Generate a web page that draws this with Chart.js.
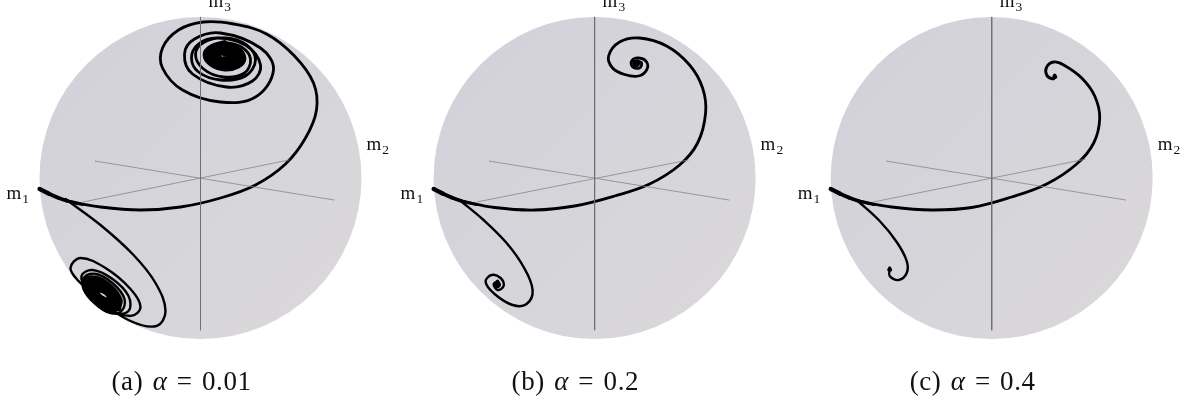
<!DOCTYPE html>
<html><head><meta charset="utf-8">
<style>
html,body{margin:0;padding:0;background:#fff;width:1187px;height:403px;overflow:hidden}
canvas{position:absolute;top:0}
.t{position:absolute;white-space:nowrap;font-family:"Liberation Serif",serif;color:#111}
.m{font-size:19px;line-height:19px}
.m sub{font-size:13.5px;line-height:0;vertical-align:-4px;margin-left:1px}
.c{font-size:27px;line-height:32px;word-spacing:2px;letter-spacing:.6px}
</style>
<script src="https://cdn.jsdelivr.net/npm/chart.js@4"></script>
</head><body>
<script>
// Projected coordinates: the sphere spans -161..161 on both axes.
const captions = ["(a) ", "(b) ", "(c) "];
const alphas = ["0.01", "0.2", "0.4"];
const axisNames = ["m1", "m2", "m3"];
const centers = [200.5, 594.6, 991.7];

const vAxis = [[0, 161], [0, -152]];
const a_axis1 = [[-105.5, 17], [133.5, -22]];
const a_axis2 = [[-117.5, -24], [88.5, 18]];
const b_axis1 = [[-105.6, 17], [134.4, -22]];
const b_axis2 = [[-118, -24], [93.7, 18]];
const c_axis1 = [[-105.7, 17], [134, -22]];
const c_axis2 = [[-118.4, -24], [93.3, 18.7]];

const startThick = [[-161, -11], [-152, -15.5], [-143, -19.5], [-133, -23], [-118, -26.5]];

const a_upper = [[-133,-23],[-100,-29],[-60,-32],[-20,-29],[20,-20],[55,-7],[85,14],[105,40],[116,68],[113,95],
 [94,122],[66,144],[33,154],[3,156],[-22,148],[-38,130],[-38,110],[-18,88],[20,76],[55,81],[73,108],[60,130],
 [20,145],[-6,139],[-16,124],[-8,104],[26,91],[52,97],[60,113],[45,133],[17,140],[-2,134],[-9,120],[-2,106],
 [20,98],[45,102],[55,118],[46,133],[25,140],[4,136],[-5,124],[3,109],[23,101],[44,105],[50,119],[41,131],[24,136]];
const a_upperCore = [[24,136],[10,131.5],[4,123.5],[10,113.5],[24,108.5],[38,111.5],[44,119.5],[38,129.5],[24,134.5],
 [12,131],[7,123],[12,115],[24,111],[36,114],[41,121],[35,128],[24,132],
 [14,129],[10,123],[14,117],[24,113],[34,115],[38,121],[33,127],[24,130],
 [16,127],[13,122],[16,118],[24,115],[32,117],[35,121],[30,125],[24,128],
 [18,125],[16,122],[18,119],[24,117],[30,119],[32,121],[28,124],[24,125],
 [20,124],[19,122],[20,120],[24,119],[27,120],[28,121.5],[26,123],[24,123]];
const a_lower = [[-135,-21],[-100,-47],[-67,-77],[-45,-105],[-35,-133],[-44,-148],[-70,-143],[-100,-123],[-122,-103],
 [-130,-90],[-120,-80],[-95,-90],[-70,-111],[-60,-129],[-70,-138],[-95,-129],[-113,-112],[-119,-98],[-108,-92],
 [-88,-101],[-72,-118],[-72,-133],[-88,-135],[-105,-126],[-117,-111],[-116,-99],[-104,-96],[-87,-106],[-76,-121],
 [-79,-133],[-90,-135],[-105,-126],[-115,-112],[-115,-101],[-104,-99],[-89,-108],[-79,-122],[-81,-131]];
const a_lowerCore = [[-81,-131],[-91,-132],[-104,-125],[-113,-113],[-113,-103],[-103,-102],[-90,-109],[-81,-121],
 [-83,-129],[-92,-130],[-103,-124],[-111,-113],[-111,-105],[-102,-104],[-91,-110],[-83,-121],
 [-85,-127],[-92,-128],[-102,-123],[-109,-114],[-109,-107],[-102,-106],[-92,-111],[-85,-120],
 [-88,-125],[-93,-126],[-101,-121],[-106,-115],[-106,-109],[-101,-108],[-93,-113],[-88,-119],
 [-90,-123],[-94,-124],[-100,-120],[-104,-115],[-104,-111],[-100,-110],[-94,-114],[-90,-119],
 [-92,-121],[-95,-121],[-99,-119],[-102,-116],[-102,-113],[-99,-113],[-95,-115],[-92,-118]];
const a_dot = [[24.7, 120.7]];

const b_upper = [[-133,-23],[-100,-29.5],[-60,-32],[-20,-28],[20,-18],[55,-6],[85,13],[103,35],[111,65],[108,90],
 [95,113],[72,132],[45,140],[25,136],[14,122],[18,110],[30,103.5],[44,102],[52,108],[52,116],[44,120],[37,117],
 [38,111],[45,110],[47,115],[43,117]];
const b_upperCore = [[43,117],[39,116],[41,112],[44,114],[42,116],[41,115]];
const b_lower = [[-135,-22],[-111,-42],[-88,-65],[-71,-89],[-62,-112],[-68,-126],[-82,-127],[-100,-116],[-109,-104],
 [-103,-97],[-94,-100],[-91,-108],[-97,-112],[-101,-106],[-97,-103]];
const b_lowerCore = [[-97,-103],[-95,-107],[-98,-109],[-99,-106],[-97,-105],[-96,-107]];

const c_upper = [[-133,-23],[-100,-29],[-60,-32],[-20,-29.5],[20,-19],[55,-6],[85,14],[102,35],[108,60],[103,82],
 [90,100],[72,113],[62,116],[55,111],[55,103],[61,99],[64,101]];
const c_upperCore = [[64,101],[63,103],[62,101]];
const c_lower = [[-135,-22],[-112,-43],[-95,-64],[-85,-83],[-85,-95],[-93,-102],[-102,-98],[-102,-90]];
const c_lowerCore = [[-102,-90],[-101,-92],[-103,-92],[-102,-90]];

const panels = [
 {axes:[a_axis1,a_axis2], upper:a_upper, lower:a_lower, cores:[a_upperCore,a_lowerCore], dot:a_dot, coreW:3.8},
 {axes:[b_axis1,b_axis2], upper:b_upper, lower:b_lower, cores:[b_upperCore,b_lowerCore], dot:[], coreW:3},
 {axes:[c_axis1,c_axis2], upper:c_upper, lower:c_lower, cores:[c_upperCore,c_lowerCore], dot:[], coreW:3}
];
const startWidths = [4.2, 3.9, 3.5, 3.1];

const toPts = a => a.map(p => ({x:p[0], y:p[1]}));
const line = (pts, color, w, tension, extra) => Object.assign(
  {data:toPts(pts), showLine:true, borderColor:color, borderWidth:w, tension:tension,
   pointRadius:0, clip:false, borderCapStyle:'round', borderJoinStyle:'round'}, extra||{});

const spherePlugin = {
  id:'sphere',
  beforeDatasetsDraw(chart){
    const {x, y} = chart.scales, c = chart.ctx;
    const cx = x.getPixelForValue(0), cy = y.getPixelForValue(0);
    const r = x.getPixelForValue(161) - cx;
    const g = c.createLinearGradient(cx - r*.7, cy - r*.7, cx + r*.7, cy + r*.7);
    g.addColorStop(0, '#d3d2da'); g.addColorStop(.55, '#d6d5da'); g.addColorStop(1, '#d9d7d9');
    c.save(); c.fillStyle = g; c.beginPath(); c.arc(cx, cy, r, 0, Math.PI*2); c.fill(); c.restore();
  }
};

const W = 394, H = 403, D = 322;
panels.forEach((p, i) => {
  const cx = centers[i], left = Math.floor(cx - W/2), padL = cx - D/2 - left;
  const cv = document.createElement('canvas');
  cv.width = W; cv.height = H; cv.style.left = left + 'px'; cv.style.width = W+'px'; cv.style.height = H+'px';
  document.body.appendChild(cv);
  new Chart(cv, {
    type:'scatter',
    data:{datasets:[
      line(vAxis, '#6f6f75', 1, 0),
      line(p.axes[0], '#86858b', .8, 0),
      line(p.axes[1], '#86858b', .8, 0),
      line(p.lower, '#000', 2.4, .38),
      line(p.upper, '#000', 2.8, .38),
      line(p.cores[0], '#000', p.coreW, .38),
      line(p.cores[1], '#000', p.coreW, .38),
      line(startThick, '#000', 3, 0.3, {segment:{borderWidth:s => startWidths[s.p0DataIndex]}}),
      {data:toPts(p.dot), pointRadius:.9, pointBackgroundColor:'#c8c8cc', pointBorderWidth:0, showLine:false, clip:false}
    ]},
    options:{
      responsive:false, animation:false, events:[],
      layout:{padding:{left:padL, right:W-padL-D, top:17, bottom:H-17-D}},
      plugins:{legend:{display:false}, tooltip:{enabled:false}, title:{display:false}},
      scales:{
        x:{type:'linear', min:-161, max:161, display:false},
        y:{type:'linear', min:-161, max:161, display:false}
      }
    },
    plugins:[spherePlugin]
  });

  const mk = (cls, html, l, t) => {
    const d = document.createElement('div');
    d.className = 't ' + cls; d.innerHTML = html; d.style.left = l + 'px'; d.style.top = t + 'px';
    document.body.appendChild(d); return d;
  };
  const labelAt = [[-194, 183], [166, 134], [8, -9]];
  axisNames.forEach((n, k) => mk('m', n[0] + '<sub>' + n[1] + '</sub>', cx + labelAt[k][0], labelAt[k][1]));
  const cap = mk('c', captions[i] + '<i>α</i> = ' + alphas[i], 0, 365);
  cap.style.left = (cx - 19 - cap.offsetWidth/2) + 'px';
});
</script>
</body></html>
